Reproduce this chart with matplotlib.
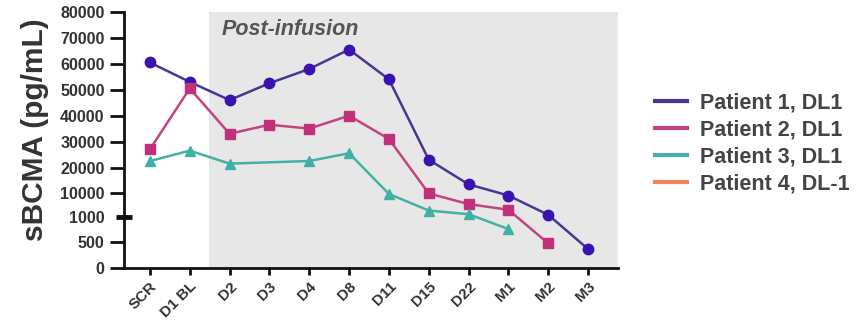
import matplotlib.pyplot as plt
from matplotlib.lines import Line2D
from matplotlib.transforms import blended_transform_factory
import numpy as np

# Time points and sBCMA levels (pg/mL) per patient; None = no sample
timepoints = ['SCR', 'D1 BL', 'D2', 'D3', 'D4', 'D8', 'D11', 'D15', 'D22', 'M1', 'M2', 'M3']
patient1 = [60500, 53000, 46000, 52500, 58000, 65500, 54000, 23000, 13500, 9200, 1750, 370]
patient2 = [27000, 50500, 33000, 36500, 35000, 40000, 31000, 10000, 5900, 3700, 480, None]
patient3 = [22500, 26500, 21500, None, 22500, 25500, 9800, 3400, 2000, 760, None, None]
patient4 = [None] * len(timepoints)

labels = ['Patient 1, DL1', 'Patient 2, DL1', 'Patient 3, DL1', 'Patient 4, DL-1']
line_colors = ['#4a3590', '#c4447f', '#45b0a6', '#f0875a']
marker_colors = ['#3a12b0', '#c2307a', '#3fb0a5', '#f0875a']
markers = ['o', 's', '^', 'D']

plt.rcParams['font.family'] = ['Liberation Sans', 'DejaVu Sans']
plt.rcParams['font.weight'] = 'bold'

# Split y axis: 0-1000 gets its own stretched segment below 1000-80000
seg_in = [0, 1000, 80000]
seg_out = [0, 51, 255]


def fwd(v):
    return np.interp(v, seg_in, seg_out)


def inv(v):
    return np.interp(v, seg_out, seg_in)


fig = plt.figure(figsize=(8.59, 3.22), dpi=100)
ax = fig.add_axes([0.1444, 0.1677, 0.575, 0.7953])
ax.set_yscale('function', functions=(fwd, inv))
ax.set_ylim(0, 80000)

x = np.arange(len(timepoints))
ax.set_xlim(-0.65, len(timepoints) - 1 + 0.75)

# Post-infusion shaded window
ax.axvspan(1.48, len(timepoints) - 1 + 0.75, color='#e7e7e7', lw=0, zorder=0)
ax.text(1.8, 0.93, 'Post-infusion', transform=blended_transform_factory(ax.transData, ax.transAxes),
        fontsize=15.5, fontstyle='italic', fontweight='bold', color='#555555', va='center')

series = [patient1, patient2, patient3, patient4]
for vals, lc, mc, mk, lab in zip(series, line_colors, marker_colors, markers, labels):
    xs = [xi for xi, v in zip(x, vals) if v is not None]
    ys = [v for v in vals if v is not None]
    ax.plot(xs, ys, color=lc, lw=1.8, zorder=3, label=lab)
    ax.plot(xs, ys, ls='none', marker=mk, ms=7.5 if mk == 'o' else 6.5, color=mc, zorder=4)

for s in ['top', 'right']:
    ax.spines[s].set_visible(False)
for s in ['left', 'bottom']:
    ax.spines[s].set_linewidth(2)
    ax.spines[s].set_color('#111111')

yt = [0, 500, 1000, 10000, 20000, 30000, 40000, 50000, 60000, 70000, 80000]
ax.set_yticks(yt)
ax.set_yticklabels([str(v) for v in yt], fontsize=11.5, fontweight='bold', color='#333333')
ax.set_xticks(x)
ax.set_xticklabels(timepoints, rotation=45, ha='right', rotation_mode='anchor',
                   fontsize=11, fontweight='bold', color='#333333')
ax.tick_params(axis='y', length=10, width=2, color='#111111', pad=4)
ax.tick_params(axis='x', length=5, width=2, color='#111111', pad=3)

# Axis break mark at 1000
ax.plot([-0.017, 0.017], [1000, 1000], transform=blended_transform_factory(ax.transAxes, ax.transData),
        color='#111111', lw=3.5, clip_on=False, zorder=5, solid_capstyle='butt')
ax.yaxis.get_major_ticks()[2].tick1line.set_visible(False)

ax.set_ylabel('sBCMA (pg/mL)', fontsize=21.5, fontweight='bold', color='#333333')
ax.yaxis.set_label_coords(-0.152, 0.54)

handles = [Line2D([], [], color=c, lw=3) for c in line_colors]
fig.legend(handles, labels, loc='center left', bbox_to_anchor=(0.74, 0.555), frameon=False,
           handlelength=1.5, handletextpad=0.6, labelspacing=0.28,
           prop={'weight': 'bold', 'size': 15.5})
for t in fig.legends[0].get_texts():
    t.set_color('#444444')

fig.savefig('out.png', dpi=100)
